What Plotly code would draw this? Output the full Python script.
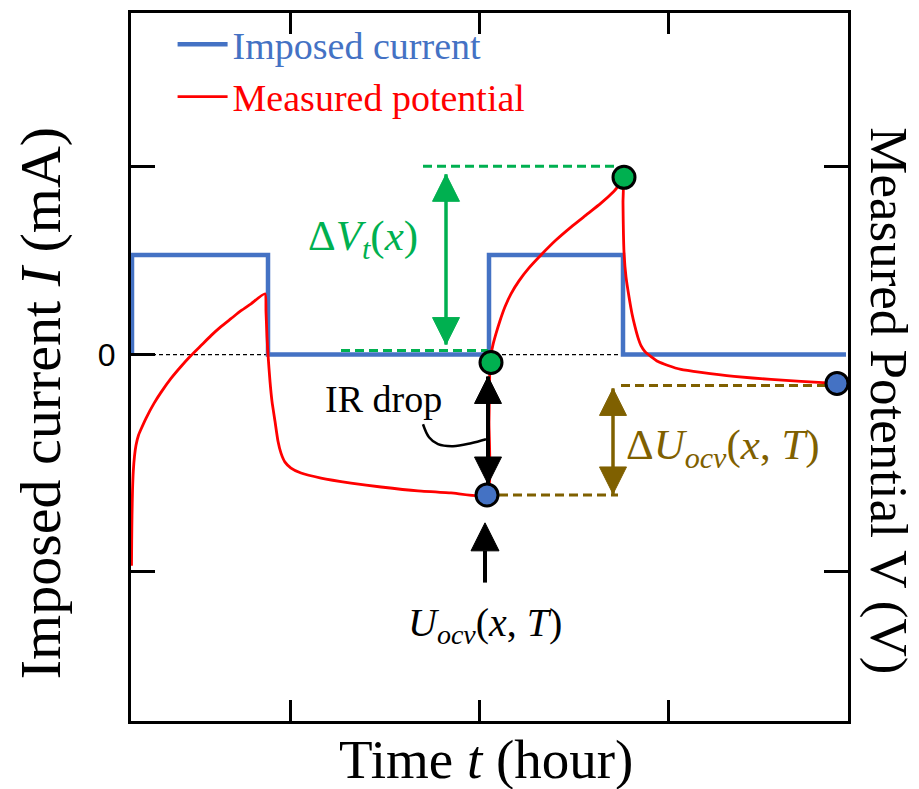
import plotly.graph_objects as go

# ---------------- data (time in arbitrary hours, values in relative units) -------------
# imposed current step profile
t_current = [0.01, 0.01, 1.37, 1.37, 3.58, 3.58, 4.92, 4.92, 7.15]
i_current = [0.0, 1.0, 1.0, 0.0, 0.0, 1.0, 1.0, 0.0, 0.0]

# measured potential
t_potential = [0.005, 0.007, 0.010, 0.015, 0.023, 0.035, 0.05, 0.075, 0.10, 0.15, 0.23,
               0.30, 0.40, 0.50, 0.60, 0.70, 0.80, 0.90, 1.00, 1.10, 1.20, 1.34,
               1.35, 1.36, 1.37, 1.39, 1.41, 1.44, 1.47, 1.50, 1.54, 1.60, 1.70, 1.90, 2.20,
               2.50, 2.87, 3.20, 3.56,
               3.58, 3.59,
               3.60, 3.62, 3.65, 3.69, 3.74, 3.80, 3.88, 3.98, 4.10, 4.25, 4.40, 4.55, 4.70,
               4.83, 4.92,
               4.92, 4.93, 4.95, 4.98, 5.01, 5.04, 5.07, 5.10, 5.14, 5.20, 5.27, 5.37, 5.50,
               5.70, 6.03, 6.40, 6.70, 7.05]
v_potential = [-2.12, -1.87, -1.62, -1.37, -1.17, -1.02, -0.91, -0.81, -0.75, -0.64, -0.49,
               -0.38, -0.24, -0.12, -0.01, 0.09, 0.19, 0.28, 0.36, 0.44, 0.51, 0.61,
               0.43, 0.18, 0.00, -0.27, -0.47, -0.67, -0.87, -0.99, -1.08, -1.14, -1.19,
               -1.24, -1.29, -1.33, -1.37, -1.39, -1.41,
               -0.67, -0.08,
               0.00, 0.10, 0.21, 0.34, 0.48, 0.61, 0.74, 0.87, 1.00, 1.15, 1.28, 1.40, 1.52,
               1.64, 1.74,
               1.53, 1.03, 0.78, 0.58, 0.41, 0.28, 0.17, 0.09, 0.03, -0.02, -0.07, -0.11,
               -0.15, -0.18, -0.22, -0.25, -0.27, -0.29]

# highlighted points
t_green = [3.60, 4.93]
v_green = [-0.08, 1.78]
t_blue = [3.56, 7.06]
v_blue = [-1.41, -0.29]

# reference (dashed) levels
dv_top_t = [2.92, 4.83]
dv_top_v = [1.89, 1.89]
dv_bot_t = [2.10, 3.57]
dv_bot_v = [0.04, 0.04]
du_top_t = [4.90, 7.06]
du_top_v = [-0.31, -0.31]
du_bot_t = [3.68, 4.87]
du_bot_v = [-1.41, -1.41]

# arrows
dv_arrow_t = [3.15, 3.15]
dv_arrow_v = [1.81, 0.10]
du_arrow_t = [4.82, 4.82]
du_arrow_v = [-0.34, -1.40]
ir_arrow_t = [3.57, 3.57]
ir_arrow_v = [-0.22, -1.30]
uocv_arrow_t = [3.54, 3.54]
uocv_arrow_v = [-2.29, -1.69]
ir_link_t = [2.92, 2.98, 3.07, 3.22, 3.40, 3.55]
ir_link_v = [-0.70, -0.83, -0.90, -0.92, -0.89, -0.85]

zero_t = [0.0, 7.15]
zero_v = [0.0, 0.0]

x_ticks = [1.59, 3.48, 5.37]
y_ticks = [1.89, 0.0, -2.18]
y_ticktext = ["", "0", ""]
y2_ticks = [1.89, -2.18]

X_RANGE = [0, 7.17]
Y_RANGE = [-3.68, 3.43]

BLUE = "#4472C4"
RED = "#FF0000"
GREEN = "#00B050"
OLIVE = "#7F6000"
SERIF = "Liberation Serif"

fig = go.Figure()

fig.add_trace(go.Scatter(x=zero_t, y=zero_v, mode="lines", showlegend=False,
                         line=dict(color="black", width=1.2, dash="4px,3px"), hoverinfo="skip"))
fig.add_trace(go.Scatter(x=t_current, y=i_current, mode="lines",
                         name=f'<span style="color:{BLUE}">Imposed current</span>',
                         line=dict(color=BLUE, width=4.5)))
fig.add_trace(go.Scatter(x=t_potential, y=v_potential, mode="lines", yaxis="y2",
                         name=f'<span style="color:{RED}">Measured potential</span>',
                         line=dict(color=RED, width=2.8, shape="spline", smoothing=0.5)))

def dashed(t, v, color):
    fig.add_trace(go.Scatter(x=t, y=v, mode="lines", yaxis="y2", showlegend=False,
                             line=dict(color=color, width=3, dash="9px,5px"), hoverinfo="skip"))

dashed(dv_top_t, dv_top_v, GREEN)
dashed(dv_bot_t, dv_bot_v, GREEN)
dashed(du_top_t, du_top_v, OLIVE)
dashed(du_bot_t, du_bot_v, OLIVE)

def arrow(t, v, color, symbols, sizes, width=3.5):
    fig.add_trace(go.Scatter(x=t, y=v, mode="lines+markers", yaxis="y2", showlegend=False,
                             cliponaxis=False, hoverinfo="skip",
                             line=dict(color=color, width=width),
                             marker=dict(symbol=symbols, size=sizes, color=color, opacity=1,
                                         line=dict(width=1, color=color))))

arrow(dv_arrow_t, dv_arrow_v, GREEN, ["arrow-up", "arrow-down"], [27, 27])
arrow(du_arrow_t, du_arrow_v, OLIVE, ["arrow-up", "arrow-down"], [27, 27])
arrow(ir_arrow_t, ir_arrow_v, "black", ["arrow-up", "arrow-down"], [27, 27], width=4)
arrow(uocv_arrow_t, uocv_arrow_v, "black", ["circle", "arrow-up"], [0, 28], width=4)

fig.add_trace(go.Scatter(x=ir_link_t, y=ir_link_v, mode="lines", yaxis="y2", showlegend=False,
                         line=dict(color="black", width=2.5, shape="spline"), hoverinfo="skip"))

fig.add_trace(go.Scatter(x=t_green, y=v_green, mode="markers", yaxis="y2", showlegend=False,
                         cliponaxis=False,
                         marker=dict(size=22, color=GREEN, line=dict(color="black", width=3))))
fig.add_trace(go.Scatter(x=t_blue, y=v_blue, mode="markers", yaxis="y2", showlegend=False,
                         cliponaxis=False,
                         marker=dict(size=22, color=BLUE, line=dict(color="black", width=3))))

# text labels
def label(x, y, text, color, size=40):
    fig.add_annotation(x=x, y=y, xref="x", yref="y2", text=text, showarrow=False,
                       xanchor="center", yanchor="middle",
                       font=dict(family=SERIF, size=size, color=color))

label(2.52, -0.45, "IR drop", "black", 38)
label(2.32, 1.16, "Δ<i>V</i><sub><i>t</i></sub>(<i>x</i>)", GREEN, 43)
label(5.92, -0.94, "Δ<i>U</i><sub><i>ocv</i></sub>(<i>x</i>, <i>T</i>)", OLIVE, 43)
label(3.54, -2.72, "<i>U</i><sub><i>ocv</i></sub>(<i>x</i>, <i>T</i>)", "black", 40)

# axis titles
def title(x, y, text, angle, size):
    fig.add_annotation(x=x, y=y, xref="paper", yref="paper", showarrow=False,
                       xanchor="center", yanchor="middle", text=text, textangle=angle,
                       font=dict(family=SERIF, size=size, color="black"))

title(-0.127, 0.4487, "Imposed current <i>I</i> (mA)", -90, 58)
title(1.0572, 0.4529, "Measured Potential V (V)", 90, 53)
title(0.495, -0.0549, "Time <i>t</i> (hour)", 0, 55)

fig.update_layout(
    width=911, height=781,
    margin=dict(l=123, r=71, t=2, b=68),
    paper_bgcolor="white", plot_bgcolor="white",
    showlegend=True,
    legend=dict(x=0.058, y=1.0, xanchor="left", yanchor="top", bgcolor="rgba(0,0,0,0)",
                font=dict(family=SERIF, size=38), itemwidth=50, tracegroupgap=0),
    xaxis=dict(range=X_RANGE, showgrid=False, zeroline=False, showline=True, linewidth=3,
               linecolor="black", mirror="ticks", ticks="inside", ticklen=21, tickwidth=3,
               tickcolor="black", tickvals=x_ticks, showticklabels=False),
    yaxis=dict(range=Y_RANGE, showgrid=False, zeroline=False, showline=True, linewidth=3,
               linecolor="black", mirror=True, ticks="inside", ticklen=24, tickwidth=3,
               tickcolor="black", tickvals=y_ticks, ticktext=y_ticktext,
               tickfont=dict(family="Liberation Sans", size=32, color="black"),
               ticklabelstandoff=6),
    yaxis2=dict(range=Y_RANGE, overlaying="y", side="right", showgrid=False, zeroline=False,
                showline=False, ticks="inside", ticklen=24, tickwidth=3, tickcolor="black",
                tickvals=y2_ticks, showticklabels=False),
)

fig.write_html("out.html")
